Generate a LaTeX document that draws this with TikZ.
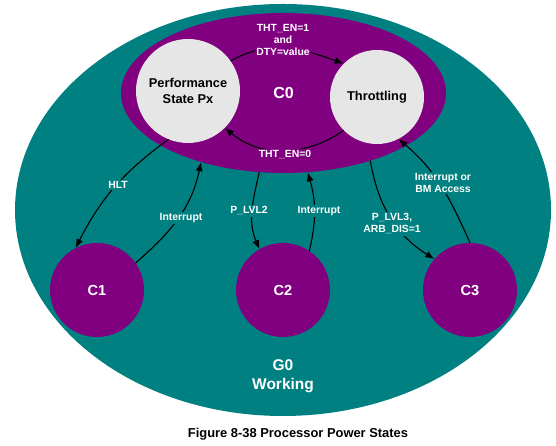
\documentclass[tikz,border=0pt]{standalone}
\usepackage{fontspec}
\setmainfont{Liberation Sans}
\usepackage{tikz}
\usetikzlibrary{shapes.geometric}
\usetikzlibrary{arrows.meta}

\definecolor{gzero}{RGB}{0,128,128}
\definecolor{czero}{RGB}{128,0,128}
\definecolor{pgray}{RGB}{230,230,230}

\tikzset{
    cstate/.style={circle, fill=czero, minimum size=94pt, inner sep=0pt,
        text=white, font=\fontsize{14.6}{17}\selectfont\bfseries},
    pstate/.style={circle, fill=pgray, inner sep=0pt, align=center,
        font=\fontsize{12.8}{16}\selectfont\bfseries},
    trans/.style={line width=1.1pt, -{Latex[length=9pt,width=7pt]}},
    cond/.style={inner sep=1.5pt, align=center, text=white,
        font=\fontsize{10.4}{12}\selectfont\bfseries}
}

\begin{document}
\begin{tikzpicture}[x=1pt,y=1pt]
            \useasboundingbox (0,0) rectangle (556,446);

            \node[ellipse, fill=gzero, minimum width=536pt, minimum height=412pt, inner sep=0pt] (g0) at (283,236) {};
            \node[ellipse, fill=czero, minimum width=325pt, minimum height=160pt, inner sep=0pt,
                text=white, font=\fontsize{16}{18}\selectfont\bfseries] (c0) at (283.5,353) {C0};

            \node[pstate, minimum size=104pt] (px) at (188,355) {Performance\\State Px};
            \node[pstate, minimum size=94pt] (tht) at (377,349) {Throttling};

            \node[cstate] (c1) at (97,156) {C1};
            \node[cstate] (c2) at (283,156) {C2};
            \node[cstate] (c3) at (470,156) {C3};

            \node[align=center, text=white, font=\fontsize{15.5}{19}\selectfont\bfseries] (g0name) at (283,69.5) {G0\\Working};

            % transitions
            \draw[trans] (px.35) to[out=30,in=160] (tht.135);
            \draw[trans] (tht.225) to[out=215,in=-40] (px.-45);
            \draw[trans] (px.248) to[out=216,in=63] (c1.117);
            \draw[trans] (c1.35) to[out=41,in=-102] (c0.220);
            \draw[trans] (c0.253) to[out=257,in=113] (c2.120);
            \draw[trans] (c2.56) to[out=77,in=-74] (c0.-73);
            \draw[trans] (c0.-38) to[out=-80,in=148] (c3.139);
            \draw[trans] (c3.90) to[out=114,in=-40] (tht.-63);

            \node[cond, fill=czero] (thton) at (283,406) {THT\_EN=1\\and\\DTY=value};
            \node[cond, fill=czero] (thtoff) at (285,291) {THT\_EN=0};
            \node[cond, fill=gzero] (hlt) at (118,261) {HLT};
            \node[cond, fill=gzero] (intone) at (181,228) {Interrupt};
            \node[cond, fill=gzero] (lvltwo) at (249,235) {P\_LVL2};
            \node[cond, fill=gzero] (inttwo) at (319,235) {Interrupt};
            \node[cond, fill=gzero] (lvlthree) at (392,222) {P\_LVL3,\\ARB\_DIS=1};
            \node[cond, fill=gzero] (intbm) at (443,263) {Interrupt or\\BM Access};

            \node[font=\fontsize{12.9}{15}\selectfont\bfseries] (caption) at (298,12) {Figure 8-38 Processor Power States};
\end{tikzpicture}
\end{document}
